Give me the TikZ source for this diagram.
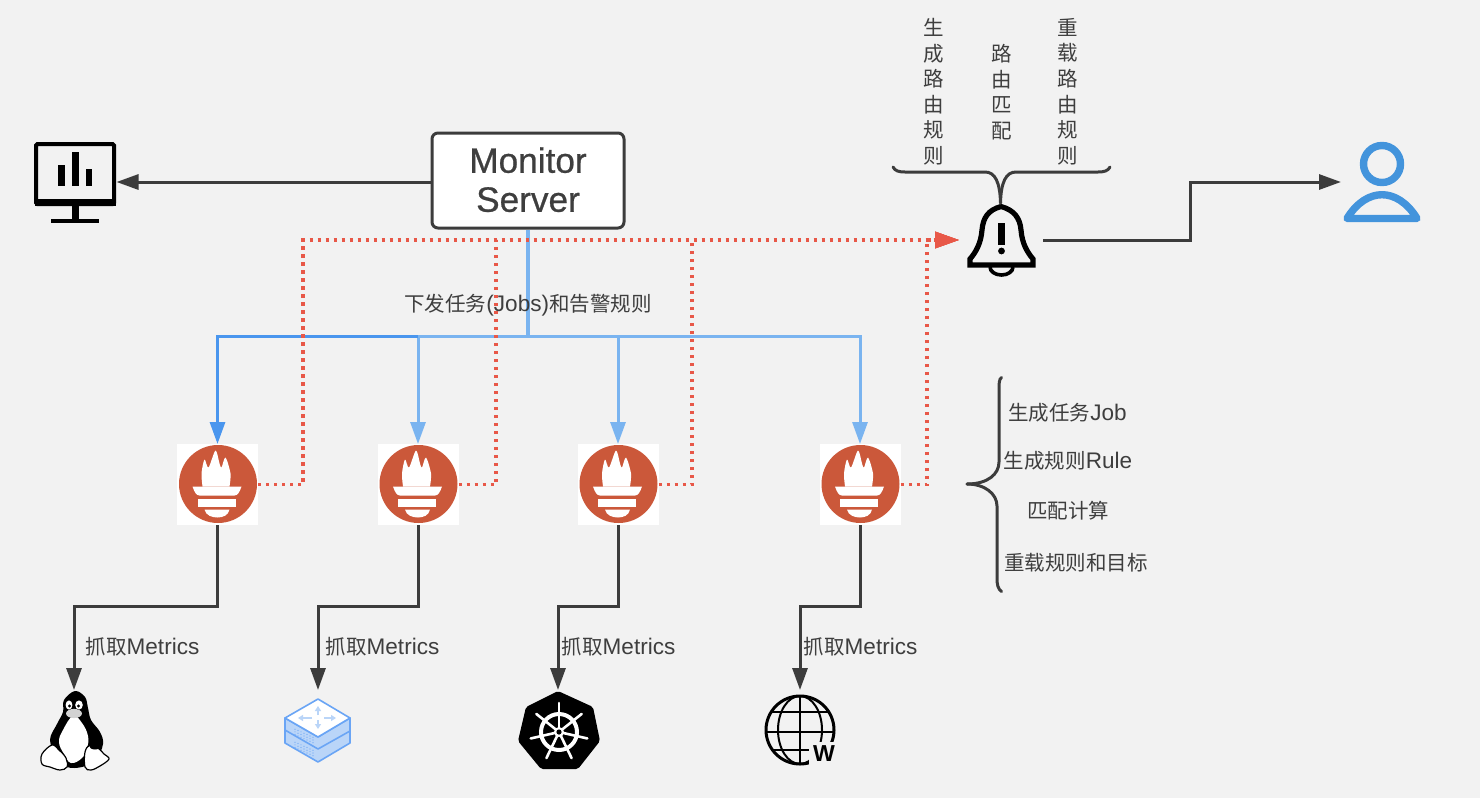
\documentclass[tikz,border=0pt]{standalone}
\usepackage{fontspec}
\usepackage{xcolor}
\usetikzlibrary{arrows.meta,positioning,calc}
\setmainfont{Liberation Sans}[Scale=1.1]
\newfontfamily\cjk{Noto Sans CJK SC}
\newfontfamily\serverfont{Liberation Sans}[Scale=1.1,FakeBold=0.7]
\definecolor{PageColor}{RGB}{242,242,242}
\definecolor{InkColor}{RGB}{60,60,60}
\definecolor{TextColor}{RGB}{62,62,62}
\definecolor{JobColor}{RGB}{122,180,240}
\definecolor{JobDarkColor}{RGB}{74,150,238}
\definecolor{AlertColor}{RGB}{232,88,72}
\definecolor{PromColor}{RGB}{203,88,58}
\definecolor{UserColor}{RGB}{67,148,220}
\definecolor{RouterColor}{RGB}{106,165,245}
\definecolor{RouterFill}{RGB}{186,213,248}
\tikzset{
  iconnode/.style={minimum width=82pt, minimum height=80pt, inner sep=0pt, outer sep=0pt},
  promnode/.style={fill=white, minimum width=81pt, minimum height=81pt, inner sep=0pt, outer sep=0pt},
  servernode/.style={draw=InkColor, line width=3pt, fill=white, rounded corners=6pt, minimum width=192pt,
    minimum height=95pt, align=center, text=TextColor, font=\serverfont\fontsize{32}{39}\selectfont},
  labeltext/.style={font=\fontsize{20.5}{25.6}\selectfont, text=TextColor, inner sep=0pt},
  columntext/.style={labeltext, align=center, text width=22pt},
  fetchlink/.style={draw=InkColor, line width=3pt, -{Triangle[length=22pt,width=15pt]}},
  joblink/.style={draw=JobColor, line width=3pt, -{Triangle[length=22pt,width=15pt]}},
  alertlink/.style={draw=AlertColor, line width=3.1pt, dash pattern=on 3.1pt off 4.9pt, -{Triangle[length=24pt,width=16pt]}},
  bracket/.style={draw=InkColor, line width=3pt, line cap=round},
  pics/promicon/.style={code={
    \fill[PromColor] (0.5,-0.5) circle (39pt);
    \fill[white] plot[smooth, tension=0.5] coordinates {(-15,2) (-16,-11) (-13,-25) (-9,-17) (-2,-34) (2,-21) (4,-17) (8,-27) (13,-11) (12,2)} -- cycle;
    \fill[white] (-25,2) -- (24,2) .. controls (22,8) and (20,11) .. (17,11) -- (-18,11) .. controls (-21,11) and (-23,8) .. (-25,2) -- cycle;
    \fill[white] (-20,14) rectangle (18,22);
    \fill[white] (-13,25) -- (12,25) .. controls (11,31) and (5,33) .. (0,33) .. controls (-5,33) and (-12,31) .. (-13,25) -- cycle;
  }},
  pics/dashicon/.style={code={
    \draw[black, line width=4pt, rounded corners=1.5pt] (-39.5,-38) rectangle (38.5,22);
    \fill[black] (-41,17) rectangle (40,24);
    \fill[black] (-3.5,24) rectangle (3.5,38);
    \fill[black] (-24.5,37) rectangle (23.5,41);
    \fill[black] (-17.5,-17) rectangle (-10.5,4);
    \fill[black] (-3.5,-30) rectangle (3.5,4);
    \fill[black] (10.5,-13) rectangle (16.5,4);
  }},
  pics/bellicon/.style={code={
    \draw[black, line width=3.6pt] (-11,27) arc (180:0:11.5 and 8);
    \fill[PageColor] (-14,21) rectangle (15,27);
    \draw[black, line width=5.2pt, line join=miter] (0,-33.5) .. controls (-13,-30) and (-18,-22) .. (-19,-10)
      .. controls (-20,3) and (-25,12) .. (-31,19) -- (-31,25) -- (32,25) -- (32,19)
      .. controls (26,12) and (21,3) .. (20,-10) .. controls (19,-22) and (13,-30) .. (0,-33.5) -- cycle;
    \fill[black] (-3,-17) rectangle (4,5);
    \fill[black] (0.5,11) circle (3.4pt);
  }},
  pics/usericon/.style={code={
    \draw[UserColor, line width=7.4pt] (0,-18) circle (18.5pt);
    \draw[UserColor, line width=7.4pt, line join=round] (-35,36.5) .. controls (-25,20) and (-12,12.7) .. (0,12.7)
      .. controls (12,12.7) and (25,20) .. (35,36.5) -- cycle;
  }},
  pics/tuxicon/.style={code={
    \fill[black] plot[smooth cycle, tension=0.6] coordinates {(1,-39) (11,-33) (14,-22) (17,-10) (26,2) (29,14) (22,30) (8,37) (-7,37) (-17,28) (-24,10) (-17,-6) (-11,-18) (-10,-30)};
    \fill[white] plot[smooth cycle, tension=0.7] coordinates {(-1,-14) (8,-7) (14,6) (13,18) (8,28) (-3,33) (-10,24) (-15,12) (-11,0)};
    \fill[white] (-5,-25) ellipse (3.4pt and 4.6pt);
    \fill[white] (5,-25) ellipse (3.8pt and 4.6pt);
    \fill[black] (-4.5,-24) circle (1.6pt);
    \fill[black] (4.5,-24) circle (1.6pt);
    \fill[gray!35] (0,-16.5) ellipse (8pt and 4.6pt);
    \draw[black, fill=white, line width=1.2pt] plot[smooth cycle, tension=0.6] coordinates {(-32,24) (-22,15) (-15,20) (-8,28) (-7,37) (-14,40) (-24,37) (-32,34)};
    \draw[black, fill=white, line width=1.2pt] plot[smooth cycle, tension=0.6] coordinates {(11,37) (11,22) (16,15) (24,18) (30,24) (35,29) (26,36) (17,40)};
    \fill[black] (21,15.5) ellipse (6pt and 4pt);
  }},
  pics/routericon/.style={code={
    \begin{scope}[draw=RouterColor, line width=1.6pt, line join=round]
      \filldraw[fill=RouterFill] (-33,-12) -- (-33,13) -- (0,32) -- (32,13) -- (32,-12) -- (0,7) -- cycle;
      \draw (-33,0) -- (0,19) -- (32,1);
      \filldraw[fill=white] (0,-31) -- (32,-12) -- (0,7) -- (-33,-12) -- cycle;
    \end{scope}
    \foreach \a/\b/\c/\d in {0/-15/0/-24,0/-10/0/-1,-6/-12/-20/-12,6/-12/18/-12}{
      \draw[RouterFill, line width=2pt, -{Triangle[length=5pt,width=6pt]}] (\a,\b) -- (\c,\d);
    }
    \foreach \s in {-23,-20,-17,-14,-11,-8,-5}{
      \foreach \r in {0,2.7,5.4}{
        \fill[RouterColor] (\s,9.5+\r+0.45*\s) circle (0.6pt);
        \fill[RouterColor] (\s,22.5+\r+0.45*\s) circle (0.6pt);
      }
    }
  }},
  pics/k8sicon/.style={code={
    \fill[black, rounded corners=2pt] (0,-39) -- (35,-23) -- (42,11) -- (20,39) -- (-17,39) -- (-40,11) -- (-32,-23) -- cycle;
    \draw[white, line width=4pt] (1,2) circle (18pt);
    \foreach \k in {0,...,6}{
      \draw[white, line width=2.6pt, line cap=round] ($(1,2)+({90+\k*360/7}:4pt)$) -- ($(1,2)+({90+\k*360/7}:29pt)$);
    }
    \fill[white] (1,2) circle (5pt);
    \fill[black] (1,2) circle (2.6pt);
  }},
  pics/globeicon/.style={code={
    \draw[black, line width=3pt] (0,0) circle (34pt);
    \draw[black, line width=2pt] (0,0) ellipse (22pt and 34pt);
    \draw[black, line width=2pt] (0,-34) -- (0,34);
    \draw[black, line width=2pt] (-30,-18) -- (30,-18);
    \draw[black, line width=2pt] (-34,2) -- (34,2);
    \draw[black, line width=2pt] (-28,20) -- (28,20);
    \fill[PageColor] (9,12) rectangle (38,36);
    \node[font=\bfseries\fontsize{21}{21}\selectfont, text=black, inner sep=0pt] (wmark) at (24,23.5) {W};
  }},
}

\begin{document}
\begin{tikzpicture}[x=1pt, y=-1pt, >=Latex]
  \useasboundingbox (0,0) rectangle (1480,798);
  \fill[PageColor] (0,0) rectangle (1480,798);

  \node[servernode] (server) at (528,180.5) {Monitor\\Server\rule[-2pt]{0pt}{2pt}};
  \node[iconnode] (dash) at (75.5,182) {};
  \node[iconnode, minimum width=84pt] (bell) at (1001,240) {};
  \node[iconnode] (user) at (1382,182) {};
  \foreach \n/\x in {1/217.5,2/418,3/618,4/860}{
    \node[promnode] (prom\n) at (\x,484.5) {};
    \pic at (prom\n) {promicon};
  }
  \node[iconnode] (tux) at (74,730) {};
  \node[iconnode] (router) at (318,730) {};
  \node[iconnode] (k8s) at (558,730) {};
  \node[iconnode] (globe) at (800,730) {};

  \pic at (dash) {dashicon};
  \pic at (bell) {bellicon};
  \pic at (user) {usericon};
  \pic at (tux) {tuxicon};
  \pic at (router) {routericon};
  \pic at (k8s) {k8sicon};
  \pic at (globe) {globeicon};

  \draw[fetchlink] (dash.east -| server.west) -- (dash.east);
  \draw[fetchlink] (bell.east) -- ++(147,0) |- (user.west);

  % job lines from the server
  \coordinate (jobbus) at (528,336);
  \draw[draw=JobColor, line width=3.6pt] (server.south) -- (jobbus);
  \foreach \n in {2,3,4}{
    \draw[joblink] (jobbus) -| (prom\n.north);
  }
  \draw[joblink, draw=JobDarkColor] (jobbus -| prom2.north) -| (prom1.north);

  % alerts
  \foreach \n/\x in {1/303,2/496,3/692,4/927}{
    \draw[alertlink] (prom\n.east) -- (\x,484.5) -- (\x,240) -- (bell.west);
  }

  % scrape lines
  \foreach \n/\t in {1/tux,2/router,3/k8s,4/globe}{
    \draw[fetchlink] (prom\n.south) -- ++(0,81) -| (\t.north);
  }

  \node[labeltext] (jobtext) at (528,305) {{\cjk 下发任务}(Jobs){\cjk 和告警规则}};
  \node[labeltext] (fetch1) at (142.5,647) {{\cjk 抓取}Metrics};
  \node[labeltext] (fetch2) at (382.5,647) {{\cjk 抓取}Metrics};
  \node[labeltext] (fetch3) at (618.5,647) {{\cjk 抓取}Metrics};
  \node[labeltext] (fetch4) at (860.5,647) {{\cjk 抓取}Metrics};

  \node[labeltext] (makejob) at (1067.5,413) {{\cjk 生成任务}Job};
  \node[labeltext] (makerule) at (1068,461) {{\cjk 生成规则}Rule};
  \node[labeltext] (matchcalc) at (1068,511) {\cjk 匹配计算};
  \node[labeltext] (reload) at (1076,563) {\cjk 重载规则和目标};

  \node[columntext, anchor=north] (makeroute) at (933.5,18) {\cjk 生\\成\\路\\由\\规\\则};
  \node[columntext, anchor=north] (matchroute) at (1001.5,44) {\cjk 路\\由\\匹\\配};
  \node[columntext, anchor=north] (reloadroute) at (1067.5,18) {\cjk 重\\载\\路\\由\\规\\则};

  % braces
  \draw[bracket] (893,167) .. controls (895,171) and (899,172) .. (905,172) -- (985,172)
    .. controls (995,172) and (1000,182) .. (1000.5,203);
  \draw[bracket] (1110,167) .. controls (1108,171) and (1104,172) .. (1098,172) -- (1016,172)
    .. controls (1006,172) and (1001,182) .. (1000.5,203);
  \draw[bracket] (1001.5,377.5) .. controls (999,379) and (999,384) .. (999,390) -- (999,462)
    .. controls (999,474) and (988,484) .. (967,484);
  \draw[bracket] (967,484) .. controls (985,484) and (997,494) .. (997,506) -- (997,578)
    .. controls (997,585) and (998,589) .. (1001.5,591.5);
\end{tikzpicture}
\end{document}
